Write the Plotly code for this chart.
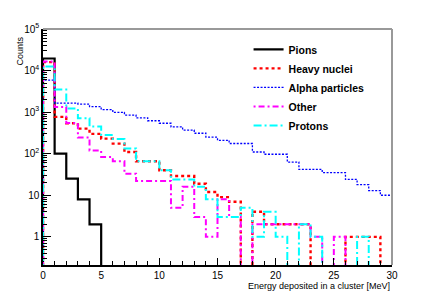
import numpy as np
import plotly.graph_objects as go

# Bin edges (MeV), 1 MeV bins from 0 to 30
bin_edges = list(range(0, 31))

pions = [19500, 100, 25, 8, 2, 0, 0, 0, 0, 0, 0, 0, 0, 0, 0,
         0, 0, 0, 0, 0, 0, 0, 0, 0, 0, 0, 0, 0, 0, 0]
heavy_nuclei = [16000, 770, 540, 400, 300, 230, 175, 110, 66, 66, 40, 29, 29, 19, 12,
                9, 7, 0, 4, 2, 2, 2, 2, 0, 0, 0, 1, 1, 1, 0]
alpha_particles = [5900, 1650, 1650, 1560, 1350, 1150, 990, 850, 730, 620, 540, 440, 370, 310, 250,
                   210, 176, 176, 110, 97, 97, 63, 42, 42, 35, 35, 24, 18, 13, 10]
other = [16500, 1330, 550, 245, 120, 83, 66, 33, 22, 22, 22, 5, 16, 3, 1,
         8, 3, 0, 2, 2, 2, 2, 2, 1, 0, 1, 0, 0, 0, 0]
protons = [12600, 3500, 1230, 710, 450, 280, 225, 133, 66, 66, 40, 24, 24, 16, 8,
           3, 3, 5, 1, 4, 1, 0, 2, 1, 0, 0, 0, 1, 0, 0]

series_names = ["Pions", "Heavy nuclei", "Alpha particles", "Other", "Protons"]
series_values = [pions, heavy_nuclei, alpha_particles, other, protons]
series_colors = ["#000000", "#ff0000", "#0000ff", "#ff00ff", "#00ffff"]
series_dash = ["solid", "3px,3px", "2px,1.5px", "2px,3px,6px,3px", "8px,3px,2px,3px"]
series_width = [2.2, 2.4, 1.3, 2.0, 2.0]

y_tick_vals = [1, 10, 100, 1000, 10000, 100000]
y_tick_text = ["1", "10", "10<sup>2</sup>", "10<sup>3</sup>", "10<sup>4</sup>", "10<sup>5</sup>"]
x_tick_vals = [0, 5, 10, 15, 20, 25, 30]

FLOOR = 0.01  # zero bins drawn below the visible range

fig = go.Figure()
for name, vals, col, dash, w in zip(series_names, series_values, series_colors, series_dash, series_width):
    v = [val if val > 0 else FLOOR for val in vals]
    xs = [bin_edges[0]] + bin_edges
    ys = [FLOOR] + v + [v[-1]]
    fig.add_trace(go.Scatter(
        x=xs, y=ys, mode="lines", name=name,
        line=dict(color=col, dash=dash, width=w, shape="hv"),
    ))

minor_vals = []
for d in range(-1, 5):
    for m in range(2, 10):
        minor_vals.append(m * 10 ** d)

font_family = "Liberation Sans, Arial, Helvetica, sans-serif"

fig.update_layout(
    width=436, height=295,
    margin=dict(l=43, r=44, t=29, b=30),
    paper_bgcolor="white", plot_bgcolor="white",
    font=dict(family=font_family, size=10, color="black"),
    showlegend=True,
    legend=dict(
        x=0.589, y=0.975, xanchor="left", yanchor="top",
        bgcolor="rgba(0,0,0,0)", borderwidth=0,
        font=dict(family=font_family, size=10.5, color="black", weight="bold"),
        itemwidth=30, tracegroupgap=0,
    ),
    xaxis=dict(
        range=[0, 30], showgrid=False, zeroline=False,
        showline=True, linecolor="black", linewidth=1.5,
        ticks="inside", ticklen=7, tickcolor="black", tickwidth=1,
        tickvals=x_tick_vals, tickfont=dict(size=10), ticklabelstandoff=0,
        minor=dict(ticks="inside", ticklen=4, dtick=1, tickcolor="black", showgrid=False),
    ),
    yaxis=dict(
        type="log", range=[np.log10(0.21), 5], showgrid=False, zeroline=False,
        showline=True, linecolor="black", linewidth=1.5,
        ticks="inside", ticklen=8, tickcolor="black", tickwidth=1,
        tickvals=y_tick_vals, ticktext=y_tick_text, tickfont=dict(size=10),
        minor=dict(ticks="inside", ticklen=4, tickvals=minor_vals, tickcolor="black", showgrid=False),
    ),
    shapes=[
        dict(type="line", xref="paper", yref="paper", x0=0, x1=1, y0=1, y1=1,
             line=dict(color="#999999", width=2)),
        dict(type="line", xref="paper", yref="paper", x0=1, x1=1, y0=0, y1=1,
             line=dict(color="#999999", width=2)),
    ],
    annotations=[
        dict(text="Energy deposited in a cluster [MeV]", xref="paper", yref="paper",
             x=1, y=0, xanchor="right", yanchor="top", yshift=-14, showarrow=False,
             font=dict(size=9, family=font_family)),
        dict(text="Counts", xref="paper", yref="paper", x=0, y=0.905, xanchor="center",
             yanchor="middle", xshift=-23, textangle=-90, showarrow=False,
             font=dict(size=9, family=font_family)),
    ],
)

fig.write_html("out.html", config={"displayModeBar": False},
               post_script="document.body.style.margin='0';document.body.style.padding='0';")
